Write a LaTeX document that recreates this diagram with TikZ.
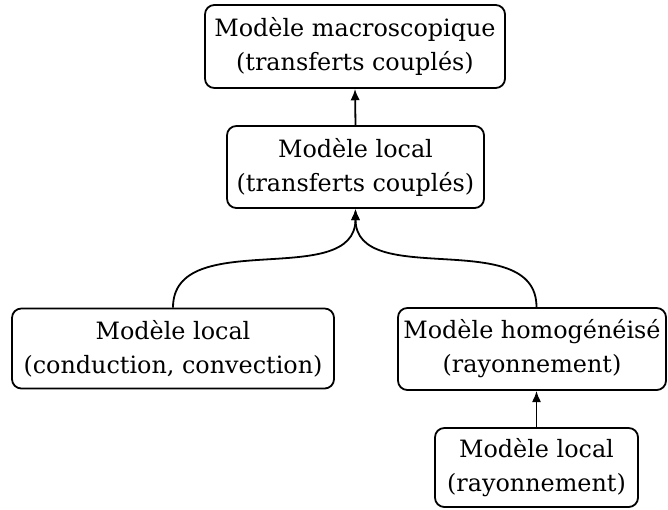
\documentclass[tikz,border=0pt]{standalone}
\usepackage{fontspec}
\setmainfont{DejaVu Serif}
\usetikzlibrary{arrows.meta}
\tikzset{
  model/.style={draw, rounded corners=7pt, line width=1.35pt, align=center,
    inner sep=0pt, font=\fontsize{17.9}{25.5}\selectfont},
  link/.style={line width=1.35pt, -{Latex[length=8.5pt,width=7pt]}}
}
\begin{document}
\begin{tikzpicture}[x=0.75pt, y=-0.75pt]
  \useasboundingbox (0,0) rectangle (668,510);

  \node[model, minimum width=225pt, minimum height=62.25pt] (macro) at (355,46.5)
    {Modèle macroscopique\\(transferts couplés)};
  \node[model, minimum width=192.75pt, minimum height=61.5pt] (couple) at (355.5,167)
    {Modèle local\\(transferts couplés)};
  \node[model, minimum width=241.5pt, minimum height=60pt] (conduc) at (173,348.5)
    {Modèle local\\(conduction, convection)};
  \node[model, minimum width=201pt, minimum height=61.5pt] (homog) at (532,349)
    {Modèle homogénéisé\\(rayonnement)};
  \node[model, minimum width=152.25pt, minimum height=59.25pt] (rayon) at (536.5,467.5)
    {Modèle local\\(rayonnement)};

  \draw[link] (couple.north) -- (macro.south);
  \draw[link] (conduc.north) .. controls +(0,-82) and +(0,82) .. (couple.south);
  \draw[link] (rayon.north |- homog.north) .. controls +(0,-82) and +(0,82) .. (couple.south);
  \draw[link] (rayon.north) -- (rayon.north |- homog.south);
\end{tikzpicture}
\end{document}
